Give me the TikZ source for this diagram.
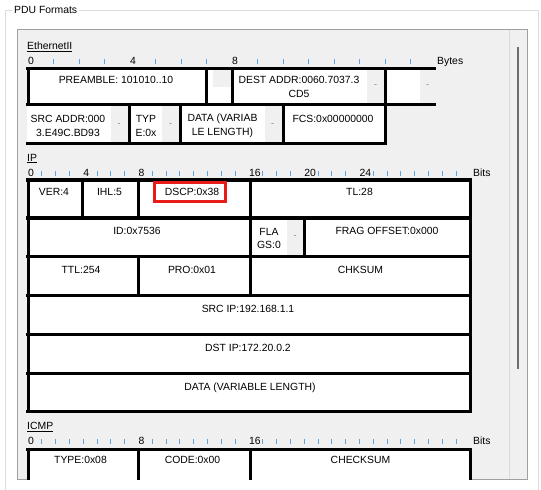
\documentclass[tikz,border=0pt]{standalone}
\usepackage{fontspec}
\setmainfont{Liberation Sans}
\definecolor{panelgray}{HTML}{F0F0F0}
\definecolor{panelborder}{HTML}{A0A0A0}
\definecolor{groupborder}{HTML}{DCDCDC}
\definecolor{tickblue}{HTML}{5AA5E6}
\definecolor{thumbgray}{HTML}{6E6E6E}
\definecolor{trackline}{HTML}{DADADA}
\definecolor{hilite}{HTML}{E81A1A}
\definecolor{dashgray}{HTML}{808080}
\tikzset{
  uifont/.style={font=\fontsize{10.4}{13.5}\selectfont},
  onetext/.style={uifont, inner sep=0pt, text height=7.45pt, text depth=0pt, anchor=center},
  twotext/.style={uifont, inner sep=0pt, align=center, anchor=center},
  ticklabel/.style={onetext, anchor=west},
  tickmark/.style={draw=tickblue, line width=1pt},
  frameline/.style={draw=black, line width=3.2pt},
  vline/.style={draw=black, line width=3pt},
  cellwhite/.style={fill=white},
  cellgray/.style={fill=panelgray},
  dashmark/.style={font=\fontsize{9}{9}\selectfont, text=dashgray, inner sep=0pt},
  seclabel/.style={onetext, anchor=west},
}
\begin{document}
\begin{tikzpicture}[x=1pt,y=-1pt]
\useasboundingbox (0,0) rectangle (541,490);
\fill[white] (0,0) rectangle (541,490);
% group box
\draw[groupborder, line width=1pt] (5.5,490) -- (5.5,10.5) -- (538.5,10.5) -- (538.5,490);
\node[onetext, anchor=west, fill=white, inner xsep=2pt] (title) at (12,10) {PDU Formats};
% panel
\draw[panelborder, fill=panelgray, line width=1pt] (17.5,29.5) rectangle (527,479.5);
\draw[trackline, line width=1pt] (509.5,30) -- (509.5,479);
\draw[thumbgray, line width=2.6pt] (518,47) -- (518,369);

\begin{scope}
\clip (18,30) rectangle (526.5,479);

% ================= Ethernet II =================
\node[seclabel] (ethlabel) at (27,45.8) {\underline{EthernetII}};
\foreach \b in {0,4,8} \node[ticklabel] (ethtick\b) at ({28+25.5*\b},60.3) {\b};
\node[ticklabel] (ethunit) at (437,60.3) {Bytes};
\foreach \b in {1,2,3,5,6,7,9,10,11,12,13,14,15}
  \draw[tickmark] ({28+25.5*\b},59) -- ++(0,5);

% row 1 fills
\fill[cellwhite] (28,68.5) rectangle (436,104.5);
\fill[cellgray] (213,70) rectangle (230.5,87);
\fill[cellgray] (367,70) rectangle (385,103);
\fill[cellgray] (420,70) rectangle (436,103);
% row 2 fills
\fill[cellwhite] (26.5,104.5) rectangle (385,143.5);
\fill[cellgray] (111,106) rectangle (129.5,142);
\fill[cellgray] (162,106) rectangle (180,142);
\fill[cellgray] (265,106) rectangle (283,142);
% lines
\draw[frameline] (26.4,68.5) -- (436,68.5);
\draw[frameline] (26.4,104.5) -- (436,104.5);
\draw[frameline] (26.4,143.5) -- (386.5,143.5);
\foreach \x in {28,206.5,232,385} \draw[vline] (\x,68.5) -- (\x,104.5);
\foreach \x in {129.5,180,283,385} \draw[vline] (\x,104.5) -- (\x,143.5);
% texts
\node[onetext] (preamble) at (116,80.2) {PREAMBLE: 101010..10};
\node[twotext] (dest) at (299,87) {DEST ADDR:0060.7037.3\\CD5};
\node[twotext] (src) at (68,126) {SRC ADDR:000\\3.E49C.BD93};
\node[twotext] (typ) at (146,126) {TYP\\E:0x};
\node[twotext] (edata) at (222.5,126) {DATA (VARIAB\\LE LENGTH)};
\node[onetext] (fcs) at (333,119.2) {FCS:0x00000000};
\node[dashmark] (dsh1) at (375.5,86) {-};
\node[dashmark] (dsh2) at (427.5,86) {-};
\node[dashmark] (dsh3) at (119,125) {-};
\node[dashmark] (dsh4) at (170.7,125) {-};
\node[dashmark] (dsh5) at (272.7,125) {-};

% ================= IP =================
\node[seclabel] (iplabel) at (27,157.5) {\underline{IP}};
\foreach \b in {0,4,8,16,20,24} \node[ticklabel] (iptick\b) at ({28+13.81*\b},172.5) {\b};
\node[ticklabel] (ipunit) at (473,172.3) {Bits};
\foreach \b in {1,2,3,5,6,7,9,10,11,12,13,14,15,17,18,19,21,22,23,25,26,27,28,29,30,31}
  \draw[tickmark] ({28+13.81*\b},171) -- ++(0,5);

\fill[cellwhite] (28,180) rectangle (470.5,411.7);
\fill[cellgray] (287,219.7) rectangle (302.8,255);
\foreach \y in {180,218,256.7,295.7,334.3,373.5,411.7}
  \draw[frameline] (26.4,\y) -- (472.1,\y);
\foreach \x in {28,470.5} \draw[vline] (\x,180) -- (\x,411.7);
\foreach \x in {82.8,138,250} \draw[vline] (\x,180) -- (\x,218);
\foreach \x in {250,304.5} \draw[vline] (\x,218) -- (\x,256.7);
\foreach \x in {138,250} \draw[vline] (\x,256.7) -- (\x,295.7);

\node[onetext] (ver) at (54,192) {VER:4};
\node[onetext] (ihl) at (109.5,192) {IHL:5};
\node[onetext] (dscp) at (192,192) {DSCP:0x38};
\draw[hilite, line width=2.7pt] (154.7,182.3) rectangle (225.3,201.3);
\node[onetext] (tl) at (359.5,192) {TL:28};
\node[onetext] (id) at (137,231) {ID:0x7536};
\node[twotext] (flags) at (269,238.3) {FLA\\GS:0};
\node[dashmark] (dsh6) at (295,237) {-};
\node[onetext] (frag) at (387,231) {FRAG OFFSET:0x000};
\node[onetext] (ttl) at (81,270) {TTL:254};
\node[onetext] (pro) at (192,270) {PRO:0x01};
\node[onetext] (chk) at (360.5,270) {CHKSUM};
\node[onetext] (srcip) at (248,309) {SRC IP:192.168.1.1};
\node[onetext] (dstip) at (248,348) {DST IP:172.20.0.2};
\node[onetext] (ipdata) at (250,387) {DATA (VARIABLE LENGTH)};

% ================= ICMP =================
\node[seclabel] (icmplabel) at (27,425.5) {\underline{ICMP}};
\foreach \b in {0,8,16} \node[ticklabel] (icmptick\b) at ({28+13.81*\b},441) {\b};
\node[ticklabel] (icmpunit) at (473,441) {Bits};
\foreach \b in {1,2,3,4,5,6,7,9,10,11,12,13,14,15,17,18,19,20,21,22,23,24,25,26,27,28,29,30,31}
  \draw[tickmark] ({28+13.81*\b},439) -- ++(0,5);
\fill[cellwhite] (28,449.5) rectangle (470.5,485);
\draw[frameline] (26.4,449.5) -- (472.1,449.5);
\foreach \x in {28,138,250,470.5} \draw[vline] (\x,449.5) -- (\x,485);
\node[onetext] (type) at (80.5,460) {TYPE:0x08};
\node[onetext] (code) at (192.5,460) {CODE:0x00};
\node[onetext] (checksum) at (360.5,460) {CHECKSUM};
\end{scope}
\end{tikzpicture}
\end{document}
